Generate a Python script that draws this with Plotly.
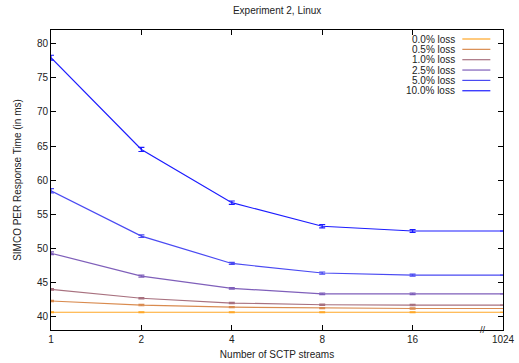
import plotly.graph_objects as go

streams = ["1", "2", "4", "8", "16", "1024"]
series_names = ["0.0% loss", "0.5% loss", "1.0% loss", "2.5% loss", "5.0% loss", "10.0% loss"]

loss_00 = [40.65, 40.65, 40.65, 40.65, 40.65, 40.65]
loss_05 = [42.3, 41.7, 41.4, 41.25, 41.2, 41.2]
loss_10 = [44.0, 42.7, 42.0, 41.75, 41.7, 41.7]
loss_25 = [49.3, 45.95, 44.15, 43.35, 43.35, 43.35]
loss_50 = [58.45, 51.8, 47.8, 46.4, 46.1, 46.1]
loss_100 = [77.95, 64.5, 56.7, 53.25, 52.55, 52.55]

err_00 = [0.05, 0.05, 0.05, 0.05, 0.05, 0]
err_05 = [0.1, 0.1, 0.08, 0.08, 0.08, 0]
err_10 = [0.12, 0.1, 0.1, 0.1, 0.1, 0]
err_25 = [0.2, 0.15, 0.12, 0.12, 0.12, 0]
err_50 = [0.3, 0.2, 0.15, 0.15, 0.15, 0]
err_100 = [0.35, 0.3, 0.25, 0.25, 0.2, 0]

values = [loss_00, loss_05, loss_10, loss_25, loss_50, loss_100]
errors = [err_00, err_05, err_10, err_25, err_50, err_100]
colors = ["#ffa726", "#d98b4f", "#a8717f", "#7f5fba", "#4a4af2", "#1c1cff"]

FONT = "Liberation Sans, Arial, Helvetica, sans-serif"
xpos = list(range(len(streams)))

fig = go.Figure()
for name, vals, errs, col in zip(series_names, values, errors, colors):
    fig.add_trace(go.Scatter(
        x=xpos, y=vals, mode="lines", name=name,
        line=dict(color=col, width=1.2),
        error_y=dict(type="data", array=errs, visible=True, color=col, thickness=1.2, width=3),
        showlegend=False,
    ))

# gnuplot-style legend (text then line sample), inside top-right
leg_y0 = 0.97
leg_dy = 0.0345
for i, (name, col) in enumerate(zip(series_names, colors)):
    yy = leg_y0 - i * leg_dy
    fig.add_annotation(xref="paper", yref="paper", x=0.895, y=yy, text=name,
                       showarrow=False, xanchor="right", yanchor="middle", borderpad=0,
                       font=dict(family=FONT, size=10, color="#222"))
    fig.add_shape(type="line", xref="paper", yref="paper", x0=0.91, x1=0.972, y0=yy, y1=yy,
                  line=dict(color=col, width=1.2))

# axis break mark
fig.add_annotation(xref="x", yref="paper", x=4.78, y=0.0, text="//", showarrow=False,
                   xanchor="center", yanchor="middle", font=dict(family=FONT, size=9, color="#222"))

fig.update_layout(
    width=519, height=363,
    margin=dict(l=51, r=16, t=30, b=33, autoexpand=False),
    paper_bgcolor="white", plot_bgcolor="white",
    font=dict(family=FONT, size=10, color="#222"),
    title=dict(text="Experiment 2, Linux", x=0.534, xanchor="center", y=0.97, yanchor="middle",
               font=dict(family=FONT, size=10, color="#222")),
    xaxis=dict(range=[0, 5], tickvals=xpos, ticktext=streams, showline=True, linecolor="black",
               linewidth=1, mirror="ticks", ticks="inside", ticklen=5, tickcolor="black",
               showgrid=False, zeroline=False,
               title=dict(text="Number of SCTP streams", standoff=6, font=dict(family=FONT, size=10))),
    yaxis=dict(range=[38.05, 82.0], tickvals=[40, 45, 50, 55, 60, 65, 70, 75, 80], showline=True,
               linecolor="black", linewidth=1, mirror="ticks", ticks="inside", ticklen=5,
               tickcolor="black", showgrid=False, zeroline=False,
               title=dict(text="SIMCO PER Response Time (in ms)", standoff=13, font=dict(family=FONT, size=10))),
)

fig.write_html("out.html")
